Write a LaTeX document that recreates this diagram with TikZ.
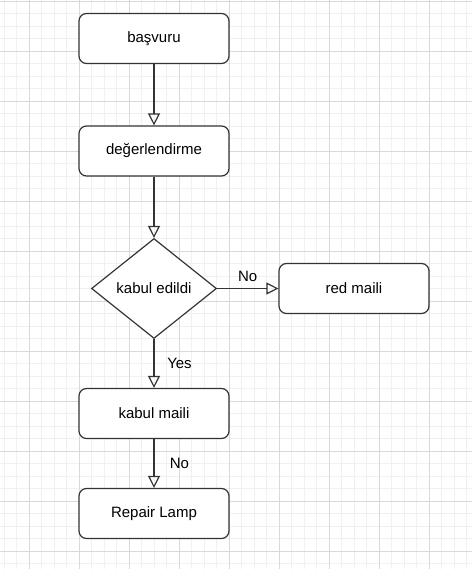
\documentclass[tikz,border=0pt]{standalone}
\usepackage{fontspec}
\setmainfont{Liberation Sans}
\usetikzlibrary{positioning,shapes.geometric,arrows.meta}
\definecolor{gridminor}{HTML}{F0F0F0}
\definecolor{gridmajor}{HTML}{D9D9D9}
\definecolor{edgecol}{HTML}{333333}
\newcommand{\txtsize}{\fontsize{10.67pt}{12.8pt}\selectfont}
\tikzstyle{proc}=[draw=edgecol, fill=white, rounded corners=0.1875cm, minimum height=1.25cm, minimum width=3.75cm, line width=0.03cm, font=\txtsize]
\tikzstyle{cond}=[draw=edgecol, fill=white, diamond, aspect=1.25, inner sep=0pt, minimum width=3.125cm, minimum height=2.5cm, line width=0.03cm, font=\txtsize]
\tikzstyle{lbl}=[inner sep=0pt, font=\txtsize]
\tikzstyle{conn}=[draw=edgecol, line width=0.03cm]
\tikzset{>={Triangle[open,length=0.3cm,width=0.3cm]}}

\begin{document}
\begin{tikzpicture}
\useasboundingbox (0,0) rectangle (11.8,-14.225);
% background grid
\begin{scope}[shift={(0.725,-0.025)}]
\draw[gridminor, line width=0.025cm, step=0.3125] (-0.725,-14.2) grid (11.075,0.025);
\draw[gridmajor, line width=0.025cm, step=1.25] (-0.725,-14.2) grid (11.075,0.025);
\end{scope}

\node[proc] at (3.85,-0.9625) (appl) {başvuru};
\node[proc, below of = appl, node distance = 2.8125cm] (eval) {değerlendirme};
\draw[conn,->] (appl) -- (eval);

\node[cond, below of = eval, node distance = 3.4375cm] (dec) {kabul edildi};
\draw[conn,->] (eval) -- (dec);

\node[proc, right of = dec, node distance = 5cm] (reject) {red maili};
\draw[conn,->] (dec) -- node[lbl, yshift = 0.3125cm] {No} (reject);

\node[proc, below of = dec, node distance = 3.125cm] (accept) {kabul maili};
\draw[conn,->] (dec) -- node[lbl, xshift = 0.6375cm] {Yes} (accept);

\node[proc, below of = accept, node distance = 2.5cm] (repair) {Repair Lamp};
\draw[conn,->] (accept) -- node[lbl, xshift = 0.6375cm] {No} (repair);
\end{tikzpicture}
\end{document}
